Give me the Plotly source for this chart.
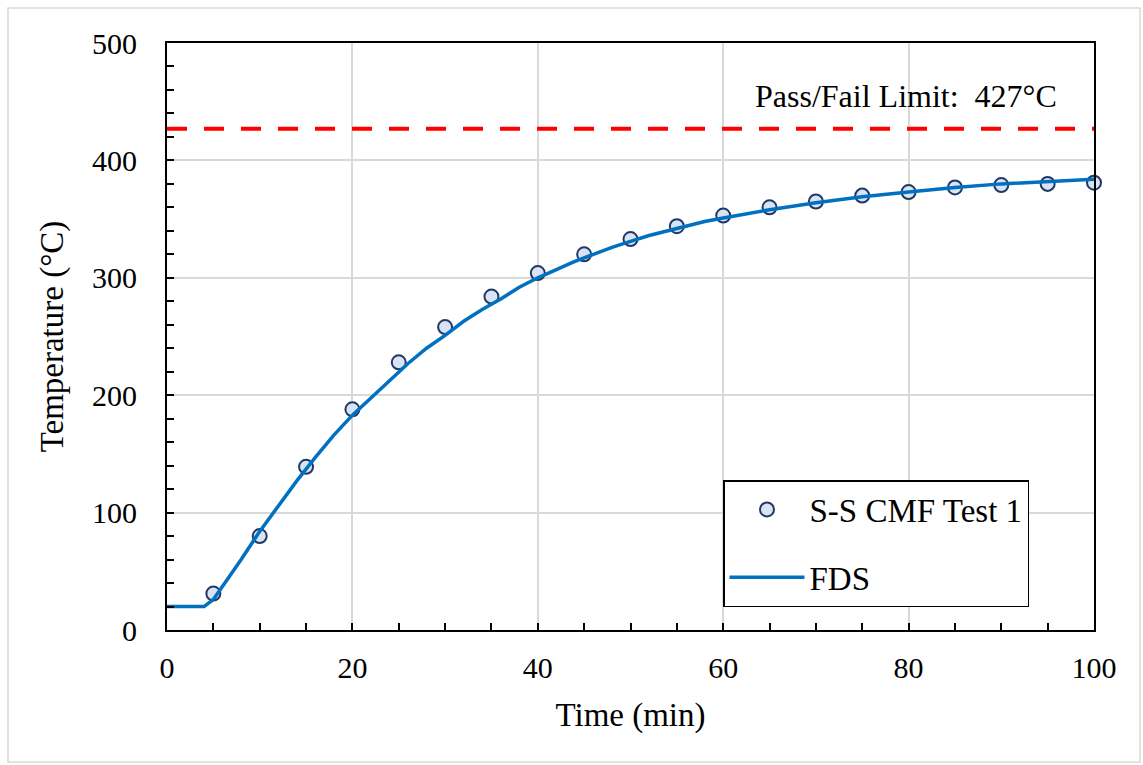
import plotly.graph_objects as go

# Measured thermocouple data (S-S CMF Test 1)
test_time = [5, 10, 15, 20, 25, 30, 35, 40, 45, 50, 55, 60, 65, 70, 75, 80, 85, 90, 95, 100]
test_temp = [31, 80, 139, 188, 228, 258, 284, 304, 320, 333, 344, 353, 360, 365, 370, 373, 377, 379, 380, 381]

# FDS prediction
fds_time = [0, 2, 4, 5, 6, 8, 10, 12, 14, 16, 18, 20, 22, 24, 26, 28, 30, 32, 34, 36, 38, 40,
            42, 44, 46, 48, 50, 52, 55, 58, 60, 65, 70, 75, 80, 85, 90, 95, 100]
fds_temp = [20, 20, 20, 26, 37, 60, 84, 106, 127, 147, 166, 183, 198, 213, 227, 240, 251, 263,
            273, 282, 292, 300, 307, 314, 320, 326, 331, 336, 342, 348, 351, 358, 364, 369,
            373, 377, 380, 382, 384]

limit_value = 427
limit_text = "Pass/Fail Limit:\u00a0 427°C"

FONT = "Liberation Serif"
TICK_SIZE = 30
TITLE_SIZE = 33

fig = go.Figure()

fig.add_trace(go.Scatter(
    x=[0, 100], y=[limit_value, limit_value], mode="lines",
    line=dict(color="#FF0000", width=4, dash="20px,17px"),
    showlegend=False, hoverinfo="skip",
))

fig.add_trace(go.Scatter(
    x=test_time, y=test_temp, mode="markers", name="S-S CMF Test 1",
    marker=dict(size=14, color="#DAE3F3", line=dict(color="#1F3864", width=2)),
    legendgroup="a", cliponaxis=False,
))

fig.add_trace(go.Scatter(
    x=fds_time, y=fds_temp, mode="lines", name="FDS",
    line=dict(color="#0070C0", width=3.5),
    legendgroup="b",
))

fig.add_annotation(
    x=(906 - 167) / 927, y=(630 - 96) / 587, xref="paper", yref="paper",
    xanchor="center", yanchor="middle",
    text=limit_text, showarrow=False,
    font=dict(family=FONT, size=32, color="black"),
)

# outer chart border
fig.add_shape(
    type="rect", xref="paper", yref="paper",
    x0=(8 - 167) / 927, x1=(1140 - 167) / 927,
    y0=(630 - 762) / 587, y1=(630 - 8) / 587,
    line=dict(color="#D9D9D9", width=1.5), fillcolor="rgba(0,0,0,0)", layer="below",
)

axis_common = dict(
    showline=True, linecolor="black", linewidth=2, mirror=True,
    ticks="inside", ticklen=7, tickwidth=2, tickcolor="black",
    gridcolor="#D9D9D9", gridwidth=1.5, zeroline=False,
    tickfont=dict(family=FONT, size=TICK_SIZE, color="black"),
    title_font=dict(family=FONT, size=TITLE_SIZE, color="black"),
)

fig.update_xaxes(
    range=[0, 100], dtick=20, tick0=0,
    minor=dict(dtick=5, ticks="inside", ticklen=7, tickwidth=2, tickcolor="black", showgrid=False),
    title_text="Time (min)", title_standoff=20, ticklabelstandoff=10,
    **axis_common,
)
fig.update_yaxes(
    range=[0, 500], dtick=100, tick0=0,
    minor=dict(dtick=20, ticks="inside", ticklen=7, tickwidth=2, tickcolor="black", showgrid=False),
    title_text="Temperature (°C)", title_standoff=18, ticklabelstandoff=22,
    **axis_common,
)

fig.update_layout(
    width=1143, height=765,
    margin=dict(l=167, r=49, t=43, b=135),
    paper_bgcolor="white", plot_bgcolor="white",
    font=dict(family=FONT, size=TICK_SIZE, color="black"),
    legend=dict(
        x=(723 - 167) / 927, y=(630 - 480) / 587, xanchor="left", yanchor="top",
        bordercolor="black", borderwidth=1.5, bgcolor="white",
        font=dict(family=FONT, size=33, color="black"),
        traceorder="grouped", tracegroupgap=22, itemwidth=75,
    ),
)

fig.write_html("out.html")
